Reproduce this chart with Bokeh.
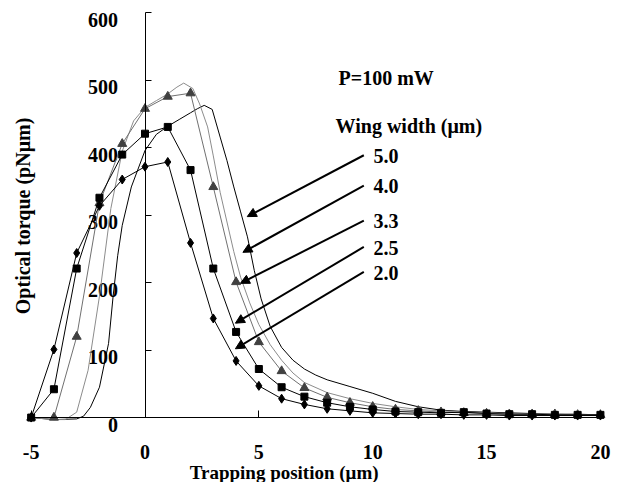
from bokeh.plotting import figure
from bokeh.models import Range1d, LinearAxis, FixedTicker, Label, Arrow, NormalHead, ColumnDataSource
from bokeh.core.properties import value
from bokeh.embed import file_html
from bokeh.resources import INLINE

# ---------------- data ----------------
x_pts = list(range(-5, 21))

w20_diamond = [0, 101, 244, 314, 353, 372, 379, 259, 147, 84, 47, 28, 19.5, 13, 10, 7, 6, 5, 5, 4, 4, 3, 3, 3, 3, 3]
w25_square = [0, 42, 221, 326, 390, 421, 431, 367, 221, 127, 72, 45, 31, 22, 16, 12, 9, 8, 7, 8, 6, 5, 5, 4, 4, 4]
w33_triangle = [0, 0, 120, 318, 406, 458, 476, 481, 342, 201, 112, 69, 44, 30, 22, 16, 12, 10, 8, 7, 6, 5, 5, 5, 4, 4]

w40_x = [-5, -4, -3.5, -3, -2.5, -2, -1.5, -1, -0.5, 0, 0.5, 1, 1.4, 1.7, 2.1, 2.4, 2.75, 3.0, 3.3, 3.6, 3.9, 4.2, 4.6, 5, 5.5, 6, 6.5, 7, 8, 9, 10, 11, 12, 13, 14, 15, 16, 17, 18, 19, 20]
w40_y = [0, -3, -3, 8, 70, 180, 310, 395, 440, 460, 470, 480, 490, 496, 488, 465, 431, 388, 334, 290, 246, 208, 170, 138, 108, 85, 66, 52, 37, 28, 21, 16, 12, 10, 8, 7, 6, 5, 5, 4, 4]

w50_x = [-5, -4, -3, -2.7, -2.4, -2, -1.6, -1.4, -1.2, -1, -0.6, 0, 0.5, 1, 1.5, 2, 2.3, 2.6, 2.95, 3.3, 3.6, 3.9, 4.2, 4.5, 4.8, 5.1, 5.5, 6, 6.5, 7, 7.5, 8, 9, 10, 11, 12, 13, 14, 15, 16, 17, 18, 19, 20]
w50_y = [0, -3, -2, 2, 15, 45, 110, 180, 240, 285, 342, 396, 420, 432, 442, 452, 458, 463, 457, 416, 381, 342, 305, 268, 218, 176, 135, 104, 85, 72, 63, 56, 46, 36, 24, 16, 11, 9, 8, 7, 6, 5, 5, 4]

x_ticks = [-5, 0, 5, 10, 15, 20]
x_tick_labels = ["-5", "0", "5", "10", "15", "20"]
y_ticks = [0, 100, 200, 300, 400, 500, 600]
y_tick_labels = ["0", "100", "200", "300", "400", "500", "600"]

series_names = ["5.0", "4.0", "3.3", "2.5", "2.0"]

FONT = "Liberation Serif"

p = figure(width=613, height=482,
           x_range=Range1d(-6.346, 20.575), y_range=Range1d(-96.3, 618.5),
           output_backend="svg", toolbar_location=None, min_border=0,
           x_axis_type=None, y_axis_type=None)
p.outline_line_color = None
p.background_fill_color = "white"
p.border_fill_color = "white"

# axes crossing at the origin
yaxis = LinearAxis(fixed_location=0, bounds=(0, 600), ticker=FixedTicker(ticks=y_ticks),
                   major_tick_in=6, major_tick_out=0, minor_tick_line_color=None,
                   axis_line_color="black", major_tick_line_color="black",
                   major_label_overrides={t: "" for t in y_ticks})
p.add_layout(yaxis, "left")

xaxis = LinearAxis(fixed_location=0, bounds=(-5, 20), ticker=FixedTicker(ticks=x_ticks),
                   major_tick_in=7, major_tick_out=0, minor_tick_line_color=None,
                   axis_line_color="black", major_tick_line_color="black",
                   major_label_overrides={t: l for t, l in zip(x_ticks, x_tick_labels)},
                   major_label_standoff=27,
                   major_label_text_font=FONT, major_label_text_font_style="bold",
                   major_label_text_font_size="20px", major_label_text_color="black")
p.add_layout(xaxis, "below")

# y tick labels (drawn slightly below their ticks, as in the original)
ylab_src = ColumnDataSource(dict(x=[0] * len(y_ticks), y=y_ticks, t=y_tick_labels))
p.text(x="x", y="y", text="t", source=ylab_src, x_offset=-27, y_offset=7,
       text_align="right", text_baseline="middle", text_font=value(FONT),
       text_font_style="bold", text_font_size="20px", text_color="black")

# curves
p.line(w50_x, w50_y, line_color="black", line_width=1)
p.line(w40_x, w40_y, line_color="#8c8c8c", line_width=1)
p.line(x_pts, w33_triangle, line_color="#707070", line_width=1)
p.scatter(x_pts, w33_triangle, marker="triangle", size=9, fill_color="#404040", line_color="#404040")
p.line(x_pts, w25_square, line_color="black", line_width=1)
p.scatter(x_pts, w25_square, marker="square", size=7, fill_color="black", line_color="black")
p.line(x_pts, w20_diamond, line_color="black", line_width=1)
p.scatter(x_pts, w20_diamond, marker="diamond", size=9, fill_color="black", line_color="black")

# annotations
p.add_layout(Label(x=-5.36, y=299, text="Optical torque (pNμm)", angle=1.5708,
                   text_align="center", text_baseline="middle", text_font=FONT,
                   text_font_style="bold", text_font_size="20px", text_color="black"))
p.add_layout(Label(x=6.11, y=-81, text="Trapping position (μm)",
                   text_align="center", text_baseline="middle", text_font=FONT,
                   text_font_style="bold", text_font_size="19px", text_color="black"))
p.add_layout(Label(x=8.5, y=504, text="P=100 mW", text_align="left", text_baseline="middle",
                   text_font=FONT, text_font_style="bold", text_font_size="20px", text_color="black"))
p.add_layout(Label(x=8.37, y=433, text="Wing width (μm)", text_align="left", text_baseline="middle",
                   text_font=FONT, text_font_style="bold", text_font_size="20px", text_color="black"))

label_y = [388, 343, 291, 252, 215]
head_pts = [(4.49, 298), (4.3, 245), (4.19, 199), (3.97, 140), (3.97, 102)]
for name, ly, (hx, hy) in zip(series_names, label_y, head_pts):
    p.add_layout(Label(x=10.04, y=ly, text=name, text_align="left", text_baseline="middle",
                       text_font=FONT, text_font_style="bold", text_font_size="20px", text_color="black"))
    p.add_layout(Arrow(end=NormalHead(size=9, fill_color="black", line_color="black"),
                       x_start=9.61, y_start=ly + 1, x_end=hx, y_end=hy,
                       line_color="black", line_width=2))

open("out.html", "w").write(file_html(p, INLINE))
